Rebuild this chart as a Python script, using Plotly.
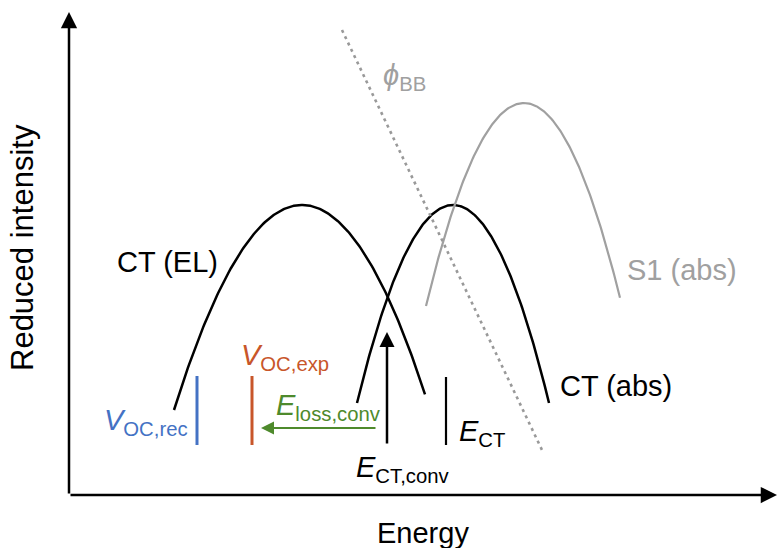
import numpy as np
import plotly.graph_objects as go

# ---- data (arbitrary units: energy, reduced intensity) ----
curve_names = ["CT (EL)", "CT (abs)", "S1 (abs)"]
peak_energy = [233, 384, 455]
peak_height = [290, 290, 392]
start_energy = [105, 288, 357]
end_energy = [356, 480, 551]
edge_height = [85, 92, 189]
curve_colors = ["black", "black", "#a0a0a0"]
curve_widths = [2.5, 2.5, 2.2]

bb_energy = [273, 473]
bb_height = [465, 45]

bar_names = ["VOC,rec", "VOC,exp", "ECT"]
bar_energy = [128, 183, 377]
bar_low = [50, 50, 50]
bar_high = [119, 119, 118]
bar_colors = ["#4472c4", "#c8562a", "black"]
bar_widths = [3, 3, 2.2]

ect_conv_energy = 318
ect_conv_from, ect_conv_to = 50, 163
eloss_from, eloss_to = 308, 192
eloss_height = 67

axis_x_max = 708
axis_y_max = 483

FONT = "Liberation Sans, Arial, sans-serif"
FS = 29

fig = go.Figure()

for name, pe, ph, s, e, eh, c, w in zip(curve_names, peak_energy, peak_height,
                                       start_energy, end_energy, edge_height,
                                       curve_colors, curve_widths):
    half = max(pe - s, e - pe)
    k = (ph - eh) / half ** 2
    x = np.linspace(s, e, 200)
    y = ph - k * (x - pe) ** 2
    fig.add_trace(go.Scatter(x=x, y=y, mode="lines", name=name,
                             line=dict(color=c, width=w), hoverinfo="skip"))

fig.add_trace(go.Scatter(x=bb_energy, y=bb_height, mode="lines",
                         line=dict(color="#999999", width=2.6, dash="3px,4px"),
                         hoverinfo="skip"))

for xe, lo, hi, c, w in zip(bar_energy, bar_low, bar_high, bar_colors, bar_widths):
    fig.add_trace(go.Scatter(x=[xe, xe], y=[lo, hi], mode="lines",
                             line=dict(color=c, width=w), hoverinfo="skip"))

anns = []
# axes arrows
anns.append(dict(x=0, y=axis_y_max, ax=0, ay=0, xref="x", yref="y", axref="x", ayref="y",
                 showarrow=True, arrowhead=2, arrowsize=1.3, arrowwidth=2.5,
                 arrowcolor="black", text=""))
anns.append(dict(x=axis_x_max, y=0, ax=0, ay=0, xref="x", yref="y", axref="x", ayref="y",
                 showarrow=True, arrowhead=2, arrowsize=1.3, arrowwidth=2.5,
                 arrowcolor="black", text=""))
# E_CT,conv arrow
anns.append(dict(x=ect_conv_energy, y=ect_conv_to, ax=ect_conv_energy, ay=ect_conv_from,
                 xref="x", yref="y", axref="x", ayref="y",
                 showarrow=True, arrowhead=2, arrowsize=1.2, arrowwidth=2.5,
                 arrowcolor="black", text=""))
# E_loss arrow
anns.append(dict(x=eloss_to, y=eloss_height, ax=eloss_from, ay=eloss_height,
                 xref="x", yref="y", axref="x", ayref="y",
                 showarrow=True, arrowhead=2, arrowsize=1.3, arrowwidth=2,
                 arrowcolor="#4e8a2c", text=""))

def label(x, y, text, color="black", xanchor="left", size=FS, angle=0):
    anns.append(dict(x=x, y=y, xref="x", yref="y", text=text, showarrow=False,
                     xanchor=xanchor, yanchor="middle", textangle=angle,
                     font=dict(family=FONT, size=size, color=color)))

label(46, 233, "CT (EL)")
label(556, 225, "S1 (abs)", color="#a0a0a0")
label(489, 109, "CT (abs)")
label(170, 138, "<i>V</i><sub>OC,exp</sub>", color="#c8562a")
label(33, 73, "<i>V</i><sub>OC,rec</sub>", color="#4472c4")
label(205, 88, "<i>E</i><sub>loss,conv</sub>", color="#4e8a2c")
label(388, 62, "<i>E</i><sub>CT</sub>")
label(285, 26, "<i>E</i><sub>CT,conv</sub>")
label(312, 418, "<i>ϕ</i><sub>BB</sub>", color="#a0a0a0")
label(354, -38, "Energy", xanchor="center")
label(-47, 247, "Reduced intensity", xanchor="center", size=31, angle=-90)

fig.update_layout(
    width=778, height=548,
    margin=dict(l=0, r=0, t=0, b=0),
    paper_bgcolor="white", plot_bgcolor="white",
    showlegend=False,
    xaxis=dict(range=[-69, 709], visible=False, fixedrange=True),
    yaxis=dict(range=[-53, 495], visible=False, fixedrange=True),
    annotations=anns,
)

fig.write_html("out.html")
